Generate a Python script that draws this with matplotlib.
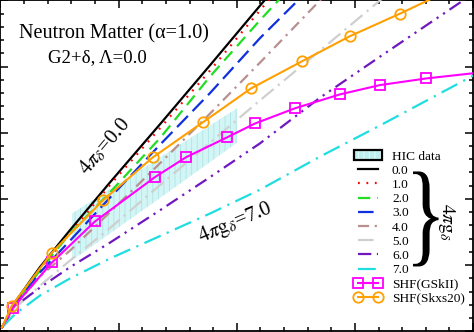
import matplotlib
matplotlib.use('Agg')
import matplotlib.pyplot as plt
import matplotlib.transforms as mtransforms
from matplotlib.patches import Patch, PathPatch
from matplotlib.textpath import TextPath
from matplotlib.font_manager import FontProperties
from matplotlib.legend_handler import HandlerTuple
from matplotlib.ticker import MultipleLocator

plt.rcParams['font.family'] = ['Liberation Serif', 'DejaVu Serif']
plt.rcParams['mathtext.fontset'] = 'stix'
plt.rcParams['hatch.linewidth'] = 0.6

# Densidade (eixo x, unidades do gráfico) comum às curvas 4πgδ
rho = [0.013, 0.123, 0.334, 0.589, 0.927, 1.351, 1.774, 2.197, 2.705, 3.213, 4.009]

# Curvas para 4πgδ = 0.0 ... 7.0
p_g0 = [0.06, 0.44, 0.97, 1.53, 2.25, 3.13, 4.02, 4.92, 5.98]
p_g1 = [0.06, 0.42, 0.95, 1.48, 2.21, 3.07, 3.94, 4.85, 5.91]
p_g2 = [0.06, 0.41, 0.92, 1.48, 2.10, 2.92, 3.85, 4.70, 5.68]
p_g3 = [0.06, 0.39, 0.89, 1.37, 2.02, 2.82, 3.60, 4.43, 5.33]
p_g4 = [0.06, 0.38, 0.83, 1.22, 1.80, 2.54, 3.29, 4.06, 5.00, 5.91]
p_g5 = [0.06, 0.35, 0.69, 1.07, 1.56, 2.21, 2.85, 3.49, 4.24, 5.00, 6.21]
p_g6 = [0.06, 0.38, 0.66, 0.97, 1.34, 1.83, 2.33, 2.84, 3.53, 4.15, 5.11]
p_g7 = [0.06, 0.26, 0.54, 0.80, 1.10, 1.44, 1.78, 2.14, 2.64, 3.11, 3.87]
g_labels = ['0.0', '1.0', '2.0', '3.0', '4.0', '5.0', '6.0', '7.0']

# SHF(GSkII)
rho_gskii = [0.013, 0.106, 0.436, 0.800, 1.308, 1.571, 1.918, 2.155, 2.494, 2.875, 3.213, 3.603, 4.009]
p_gskii = [0.06, 0.36, 1.04, 1.66, 2.33, 2.63, 2.93, 3.14, 3.37, 3.58, 3.72, 3.82, 3.90]

# SHF(Skxs20)
rho_skxs = [0.013, 0.097, 0.436, 0.868, 1.291, 1.715, 2.121, 2.553, 2.959, 3.383, 4.009]
p_skxs = [0.06, 0.39, 1.19, 1.98, 2.63, 3.16, 3.67, 4.08, 4.46, 4.80, 5.33]

# Banda HIC
rho_hic = [0.605, 1.308, 2.003]
hic_low = [1.07, 1.96, 2.85]
hic_high = [1.78, 2.58, 3.37]

fig = plt.figure(figsize=(4.74, 3.32), dpi=100)
ax = fig.add_axes([0.001, 0.002, 0.997, 0.997])

ax.fill_between(rho_hic, hic_low, hic_high, facecolor='#d4f5f5',
                edgecolor='#aee4e4', hatch='|||', linewidth=0, zorder=1)

cores = ['black', '#ff0000', '#22dd22', '#1030e0', '#b89090', '#cfcfcf', '#7018c0', '#20dde0']
estilos = ['-', (0, (0.8, 3.0)), (0, (5.5, 3.2)), (0, (7, 3)),
           (0, (5, 2.5, 1, 2.5)), (0, (7, 2.5, 1, 2.5)),
           (0, (6, 2.5, 1, 2.5, 1, 2.5)), (0, (8, 3, 1, 3))]
curvas = [p_g0, p_g1, p_g2, p_g3, p_g4, p_g5, p_g6, p_g7]

linhas = []
for yv, c, ls, lab in zip(curvas, cores, estilos, g_labels):
    l, = ax.plot(rho[:len(yv)], yv, color=c, ls=ls, lw=1.6, label=lab, zorder=3)
    linhas.append(l)

l_gskii, = ax.plot(rho_gskii, p_gskii, color='#ff00ff', lw=1.5, marker='s', ms=6.5,
                   mfc='none', mew=1.3, markevery=list(range(1, len(rho_gskii) - 1)),
                   label='SHF(GSkII)', zorder=4)
l_skxs, = ax.plot(rho_skxs, p_skxs, color='#ffa000', lw=1.5, marker='o', ms=7.5,
                  mfc='none', mew=1.3, markevery=list(range(1, len(rho_skxs) - 1)),
                  label='SHF(Skxs20)', zorder=4)

ax.set_xlim(0, 4)
ax.set_ylim(0, 5)
ax.xaxis.set_major_locator(MultipleLocator(1))
ax.xaxis.set_minor_locator(MultipleLocator(0.2))
ax.yaxis.set_major_locator(MultipleLocator(1))
ax.yaxis.set_minor_locator(MultipleLocator(0.2))
ax.tick_params(which='both', direction='in', top=True, right=True,
               labelbottom=False, labelleft=False, width=1.1)
ax.tick_params(which='major', length=6)
ax.tick_params(which='minor', length=3)
for s in ax.spines.values():
    s.set_linewidth(1.3)

ax.text(0.240, 0.900, 'Neutron Matter (α=1.0)', transform=ax.transAxes,
        ha='center', va='center', fontsize=14.5)
ax.text(0.205, 0.828, 'G2+δ, Λ=0.0', transform=ax.transAxes,
        ha='center', va='center', fontsize=13.5)
ax.text(0.221, 0.559, r'$4\pi_{\delta}$=0.0', transform=ax.transAxes,
        ha='center', va='center', fontsize=15, rotation=50)
ax.text(0.498, 0.329, r'$4\pi \mathrm{g}_{\delta}$=7.0', transform=ax.transAxes,
        ha='center', va='center', fontsize=15, rotation=23)

hic_fill = Patch(facecolor='#bff0f0', edgecolor='#e8ffff', linewidth=0, hatch='|||')
hic_borda = Patch(facecolor='none', edgecolor='black', linewidth=1.6)
handles = [(hic_fill, hic_borda)] + linhas + [l_gskii, l_skxs]
labels = ['HIC data'] + g_labels + ['SHF(GSkII)', 'SHF(Skxs20)']
ax.legend(handles, labels, loc='upper left', bbox_to_anchor=(0.748, 0.547),
          frameon=False, fontsize=9.6, handlelength=2.1, handletextpad=0.75,
          labelspacing=0.14, borderpad=0, borderaxespad=0, numpoints=2,
          handler_map={tuple: HandlerTuple(ndivide=1)})

# Chave agrupando as curvas 4πgδ
tp = TextPath((0, 0), '}', size=1, prop=FontProperties(family='Liberation Serif'))
ext = tp.get_extents()
x0, x1, y0, y1 = 0.873, 0.927, 0.196, 0.483
tr = (mtransforms.Affine2D().translate(-ext.x0, -ext.y0)
      .scale((x1 - x0) / ext.width, (y1 - y0) / ext.height).translate(x0, y0))
ax.add_patch(PathPatch(tr.transform_path(tp), transform=ax.transAxes,
                       facecolor='black', edgecolor='none', clip_on=False))
ax.text(0.943, 0.329, r'$4\pi \mathrm{g}_{\delta}$', transform=ax.transAxes,
        ha='center', va='center', fontsize=14, rotation=-90)

fig.savefig('out.png', dpi=100)
